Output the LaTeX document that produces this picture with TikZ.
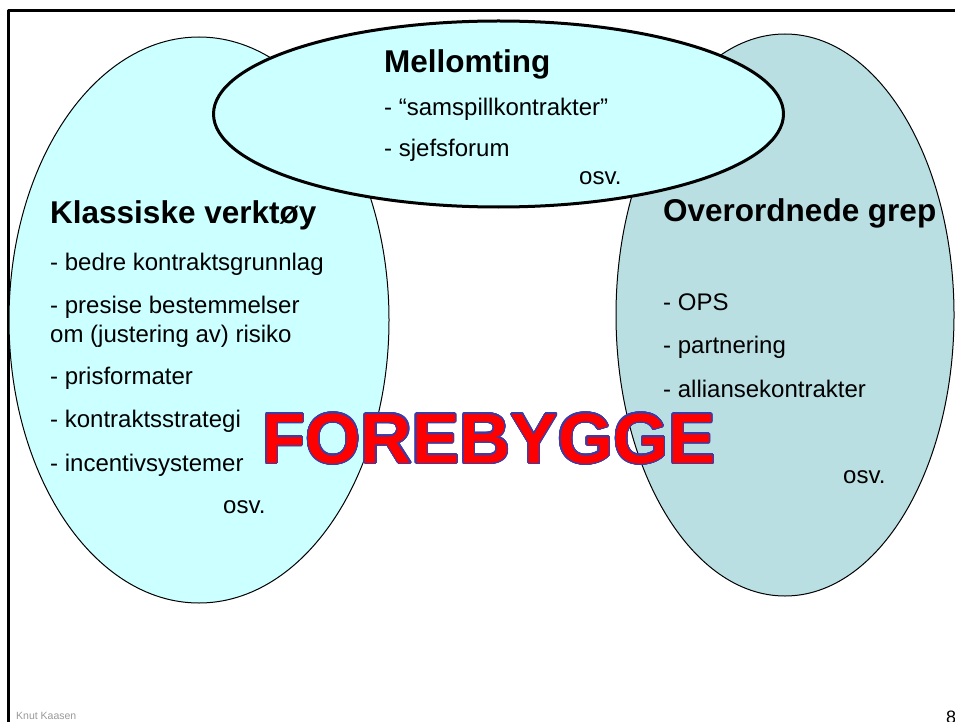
\documentclass[tikz,border=0pt]{standalone}
\usepackage{fontspec}
\setmainfont{Liberation Sans}
\usepackage[copies]{contour}
\contourlength{1.2pt}
\contournumber{32}
\definecolor{lysturkis}{RGB}{204,255,255}
\definecolor{gråturkis}{RGB}{185,223,227}
\definecolor{omriss}{RGB}{60,60,168}
\tikzset{
  overskrift/.style={anchor=base west, inner sep=0pt, font=\fontsize{31.5}{36}\selectfont\bfseries},
  punkt/.style={anchor=base west, inner sep=0pt, font=\fontsize{24}{28}\selectfont},
}
\begin{document}
\begin{tikzpicture}[line join=round, line cap=round, x=1pt, y=-1pt]
	\useasboundingbox (0,0) rectangle (955,722);
	\clip (0,0) rectangle (955,722);
	% ramme
	\draw[line width=2.7pt] (990,10.7) -- (8.5,10.7) -- (8.5,760);
	% ellipsene
	\filldraw[fill=lysturkis, line width=1pt] (199,320) ellipse[x radius=190pt, y radius=283pt];
	\filldraw[fill=gråturkis, line width=1pt] (785,315) ellipse[x radius=169pt, y radius=281pt];
	\filldraw[fill=lysturkis, line width=3pt] (498.5,114) ellipse[x radius=285pt, y radius=93pt];
	% venstre
	\node[overskrift] (klassisk) at (50,223) {Klassiske verktøy};
	\foreach \y/\l [count=\i] in {270/{- bedre kontraktsgrunnlag}, 313/{- presise bestemmelser}, 342/{om (justering av) risiko}, 384/{- prisformater}, 427/{- kontraktsstrategi}, 471/{- incentivsystemer}}
		{\node[punkt] (klassisk\i) at (50,\y) {\l};}
	\node[punkt] (klassiskosv) at (223,513) {osv.};
	% midten
	\node[overskrift] (mellom) at (384,73) {Mellomting};
	\foreach \y/\l [count=\i] in {116/{- “samspillkontrakter”}, 157/{- sjefsforum}}
		{\node[punkt] (mellom\i) at (384,\y) {\l};}
	\node[punkt] (mellomosv) at (579,185) {osv.};
	% høyre
	\node[overskrift] (overordnet) at (663,222) {Overordnede grep};
	\foreach \y/\l [count=\i] in {310/{- OPS}, 353/{- partnering}, 397/{- alliansekontrakter}}
		{\node[punkt] (overordnet\i) at (663,\y) {\l};}
	\node[punkt] (overordnetosv) at (843,483) {osv.};
	% tittel
	\node[anchor=base west, inner sep=0pt, text=red, font=\fontsize{71}{80}\selectfont\bfseries] (forebygge) at (262,463) {\contour{omriss}{FOREBYGGE}};
	% bunntekst
	\node[anchor=base west, inner sep=0pt, text=black!40, font=\fontsize{10.5}{12}\selectfont] (forfatter) at (16,719) {Knut Kaasen};
	\node[anchor=base west, inner sep=0pt, font=\fontsize{18}{20}\selectfont] (side) at (946,723) {8};
\end{tikzpicture}
\end{document}
